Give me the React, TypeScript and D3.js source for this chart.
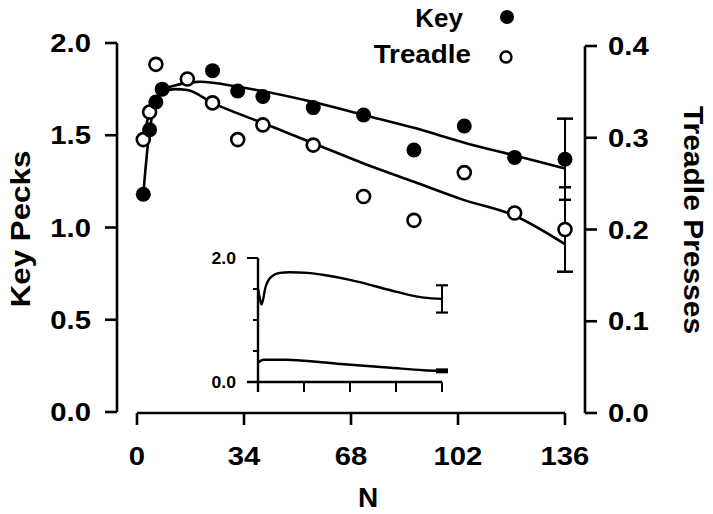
import React from "react";
import * as d3 from "d3";

const X_TICKS = [0, 34, 68, 102, 136];
const YL_TICKS = [0, 0.5, 1.0, 1.5, 2.0];
const YR_TICKS = [0, 0.1, 0.2, 0.3, 0.4];

const KEY_N = [2, 4, 6, 8, 24, 32, 40, 56, 72, 88, 104, 120, 136];
const KEY_VALUES = [1.18, 1.53, 1.68, 1.75, 1.85, 1.74, 1.71, 1.65, 1.61, 1.42, 1.55, 1.38, 1.37];

const TREADLE_N = [2, 4, 6, 16, 24, 32, 40, 56, 72, 88, 104, 120, 136];
const TREADLE_VALUES = [0.298, 0.328, 0.38, 0.364, 0.338, 0.298, 0.314, 0.292, 0.236, 0.21, 0.262, 0.218, 0.2];

const KEY_FIT_N = [2, 4, 6, 8, 12, 20, 33, 56, 72, 88, 104, 120, 136];
const KEY_FIT = [1.18, 1.53, 1.67, 1.74, 1.77, 1.79, 1.76, 1.68, 1.61, 1.54, 1.46, 1.39, 1.32];

const TREADLE_FIT_N = [2, 4, 6, 8, 12, 16, 24, 40, 56, 72, 88, 104, 120, 136];
const TREADLE_FIT = [0.298, 0.328, 0.342, 0.349, 0.353, 0.352, 0.338, 0.316, 0.294, 0.272, 0.252, 0.232, 0.215, 0.184];

const KEY_ERR = 0.22; // at N = 136, key-peck units
const TREADLE_ERR = 0.046; // at N = 136, treadle units

// Inset
const INSET_X_TICKS = [0, 25, 50, 75, 100];
const INSET_Y_TICKS = [0, 0.5, 1.0, 1.5, 2.0];
const INSET_UP_X = [0, 1, 2, 4, 7, 12, 17, 27, 35, 54, 72, 90, 100];
const INSET_UP_Y = [1.5, 1.35, 1.25, 1.52, 1.69, 1.76, 1.77, 1.76, 1.73, 1.62, 1.48, 1.36, 1.34];
const INSET_LO_X = [0, 3, 15, 45, 72, 90, 100];
const INSET_LO_Y = [0.31, 0.36, 0.36, 0.29, 0.23, 0.19, 0.18];
const INSET_UP_ERR = 0.22;
const INSET_LO_ERR = 0.04;

const FONT = "'Liberation Sans', Arial, sans-serif";
const SX = 1.17; // horizontal stretch of lettering

function T({ x, y, anchor, size, sx = SX, children, dy = "0.36em" }: any) {
  return (
    <text transform={`translate(${x},${y}) scale(${sx},1)`} dy={dy} textAnchor={anchor} fontSize={size} fontWeight="bold">
      {children}
    </text>
  );
}

export default function App() {
  const W = 713, H = 514;
  const x = d3.scaleLinear().domain([0, 136]).range([137, 565]);
  const yL = d3.scaleLinear().domain([0, 2]).range([412, 43]);
  const yR = d3.scaleLinear().domain([0, 0.4]).range([413, 46]);

  const keyLine = d3.line<number>().x((_, i) => x(KEY_FIT_N[i])).y((d) => yL(d)).curve(d3.curveMonotoneX);
  const trLine = d3.line<number>().x((_, i) => x(TREADLE_FIT_N[i])).y((d) => yR(d)).curve(d3.curveMonotoneX);

  const ix = d3.scaleLinear().domain([0, 100]).range([258, 442]);
  const iy = d3.scaleLinear().domain([0, 2]).range([382, 258]);
  const upLine = d3.line<number>().x((_, i) => ix(INSET_UP_X[i])).y((d) => iy(d)).curve(d3.curveMonotoneX);
  const loLine = d3.line<number>().x((_, i) => ix(INSET_LO_X[i])).y((d) => iy(d)).curve(d3.curveMonotoneX);

  const sw = 2.6;
  const fs = 25;
  const lastN = 136;
  const keyLast = KEY_VALUES[KEY_VALUES.length - 1];
  const trLast = TREADLE_VALUES[TREADLE_VALUES.length - 1];
  const upLast = INSET_UP_Y[INSET_UP_Y.length - 1];
  const loLast = INSET_LO_Y[INSET_LO_Y.length - 1];

  return (
    <svg width={W} height={H} style={{ position: "absolute", left: 0, top: 0, background: "#fff" }} fontFamily={FONT}>
      <rect width={W} height={H} fill="#fff" />
      {/* Left axis */}
      <line x1={117} x2={117} y1={yL(2)} y2={yL(0)} stroke="#000" strokeWidth={sw} />
      {YL_TICKS.map((t) => (
        <g key={"yl" + t}>
          <line x1={105} x2={117} y1={yL(t)} y2={yL(t)} stroke="#000" strokeWidth={sw} />
          <T x={91} y={yL(t)} anchor="end" size={fs}>{t.toFixed(1)}</T>
        </g>
      ))}
      <text transform={`translate(30,229) rotate(-90) scale(1.16,1)`} textAnchor="middle" fontSize={27} fontWeight="bold">
        Key Pecks
      </text>

      {/* Right axis */}
      <line x1={585} x2={585} y1={yR(0.4)} y2={yR(0)} stroke="#000" strokeWidth={sw} />
      {YR_TICKS.map((t) => (
        <g key={"yr" + t}>
          <line x1={585} x2={597} y1={yR(t)} y2={yR(t)} stroke="#000" strokeWidth={sw} />
          <T x={608} y={yR(t)} anchor="start" size={fs}>{t.toFixed(1)}</T>
        </g>
      ))}
      <text transform={`translate(684,220) rotate(90) scale(1.11,1)`} textAnchor="middle" fontSize={27} fontWeight="bold">
        Treadle Presses
      </text>

      {/* Bottom axis */}
      <line x1={x(0)} x2={x(136)} y1={413} y2={413} stroke="#000" strokeWidth={sw} />
      {X_TICKS.map((t) => (
        <g key={"x" + t}>
          <line x1={x(t)} x2={x(t)} y1={413} y2={425} stroke="#000" strokeWidth={sw} />
          <T x={x(t)} y={465} anchor="middle" size={fs} dy="0">{t}</T>
        </g>
      ))}
      <T x={368} y={507} anchor="middle" size={28} sx={1} dy="0">N</T>

      {/* Fit lines */}
      <path d={keyLine(KEY_FIT) || ""} fill="none" stroke="#000" strokeWidth={sw} />
      <path d={trLine(TREADLE_FIT) || ""} fill="none" stroke="#000" strokeWidth={sw} />

      {/* Error bars at last N */}
      <line x1={x(lastN)} x2={x(lastN)} y1={yL(keyLast + KEY_ERR)} y2={yR(trLast - TREADLE_ERR)} stroke="#000" strokeWidth={2} />
      <line x1={x(lastN) - 8} x2={x(lastN) + 8} y1={yL(keyLast + KEY_ERR)} y2={yL(keyLast + KEY_ERR)} stroke="#000" strokeWidth={2.5} />
      <line x1={x(lastN) - 6} x2={x(lastN) + 6} y1={yL(keyLast - KEY_ERR)} y2={yL(keyLast - KEY_ERR)} stroke="#000" strokeWidth={2.5} />
      <line x1={x(lastN) - 6} x2={x(lastN) + 6} y1={yR(trLast + TREADLE_ERR)} y2={yR(trLast + TREADLE_ERR)} stroke="#000" strokeWidth={2.5} />
      <line x1={x(lastN) - 8} x2={x(lastN) + 8} y1={yR(trLast - TREADLE_ERR)} y2={yR(trLast - TREADLE_ERR)} stroke="#000" strokeWidth={2.5} />

      {/* Points */}
      {TREADLE_VALUES.map((v, i) => (
        <circle key={"t" + i} cx={x(TREADLE_N[i])} cy={yR(v)} r={6.5} fill="#fff" stroke="#000" strokeWidth={2.6} />
      ))}
      {KEY_VALUES.map((v, i) => (
        <circle key={"k" + i} cx={x(KEY_N[i])} cy={yL(v)} r={7.5} fill="#000" />
      ))}

      {/* Legend */}
      <T x={463} y={18} anchor="end" size={26} sx={1.0}>Key</T>
      <circle cx={507} cy={17} r={7} fill="#000" />
      <T x={471} y={54} anchor="end" size={26} sx={1.07}>Treadle</T>
      <circle cx={506} cy={57} r={5.5} fill="#fff" stroke="#000" strokeWidth={2.4} />

      {/* Inset */}
      <line x1={ix(0)} x2={ix(0)} y1={iy(2)} y2={iy(0) + 10} stroke="#000" strokeWidth={2.4} />
      <line x1={ix(0) - 11} x2={ix(100)} y1={iy(0)} y2={iy(0)} stroke="#000" strokeWidth={2.4} />
      {INSET_Y_TICKS.map((t) => (
        <line key={"iy" + t} x1={t === 0 || t === 2 ? ix(0) - 11 : ix(0) - 5} x2={ix(0)} y1={iy(t)} y2={iy(t)} stroke="#000" strokeWidth={2} />
      ))}
      {INSET_X_TICKS.map((t) => (
        <line key={"ix" + t} x1={ix(t)} x2={ix(t)} y1={iy(0)} y2={iy(0) + 10} stroke="#000" strokeWidth={2} />
      ))}
      <T x={236} y={iy(2)} anchor="end" size={16} sx={1.1}>2.0</T>
      <T x={236} y={iy(0)} anchor="end" size={16} sx={1.1}>0.0</T>
      <path d={upLine(INSET_UP_Y) || ""} fill="none" stroke="#000" strokeWidth={2.4} />
      <path d={loLine(INSET_LO_Y) || ""} fill="none" stroke="#000" strokeWidth={2.4} />
      <line x1={ix(100)} x2={ix(100)} y1={iy(upLast + INSET_UP_ERR)} y2={iy(upLast - INSET_UP_ERR)} stroke="#000" strokeWidth={2} />
      <line x1={ix(100) - 6} x2={ix(100) + 6} y1={iy(upLast + INSET_UP_ERR)} y2={iy(upLast + INSET_UP_ERR)} stroke="#000" strokeWidth={2.2} />
      <line x1={ix(100) - 6} x2={ix(100) + 6} y1={iy(upLast - INSET_UP_ERR)} y2={iy(upLast - INSET_UP_ERR)} stroke="#000" strokeWidth={2.2} />
      <rect x={ix(100) - 6} y={iy(loLast + INSET_LO_ERR)} width={12} height={iy(loLast - INSET_LO_ERR) - iy(loLast + INSET_LO_ERR)} fill="#000" />
    </svg>
  );
}
